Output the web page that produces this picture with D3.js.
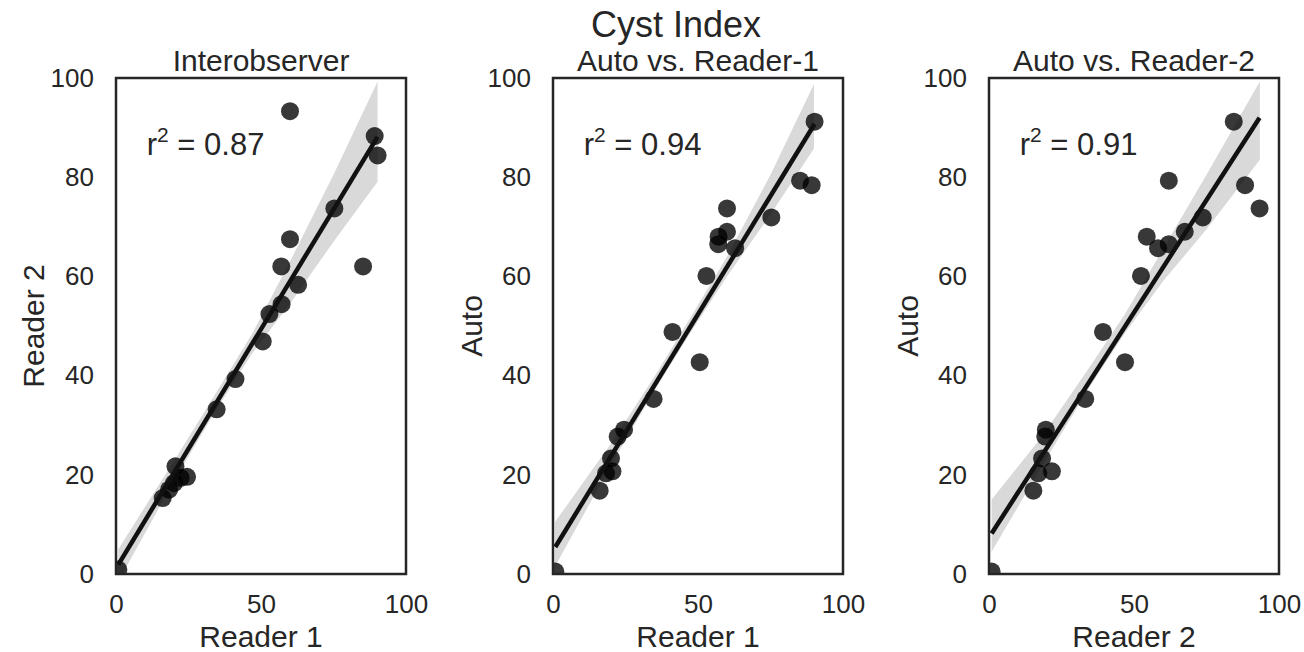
<!DOCTYPE html>
<html lang="en">
<meta charset="utf-8">
<title>Cyst Index</title>
<head>
  <style>
    body { margin: 0; background: #fff; }
    text { font-family: "Liberation Sans", Arial, sans-serif; fill: #262626; }
  </style>
</head>
<body>
  <script src="https://d3js.org/d3.v7.min.js"></script>
  <div id="chart"></div>
  <script>

    // cyst index per case
    var reader1 = [0.8, 16.1, 18.3, 20.5, 20.0, 22.3, 24.5, 34.7, 41.2, 50.6, 52.9, 62.8, 57.0, 57.1, 60.0, 75.3, 60.0, 89.2, 85.2, 90.2];
    var reader2 = [0.9, 15.3, 17.0, 21.7, 18.3, 19.4, 19.6, 33.2, 39.3, 46.9, 52.4, 58.3, 62.0, 54.4, 67.5, 73.7, 93.3, 88.3, 62.0, 84.4];
    var auto    = [0.5, 16.8, 20.3, 20.7, 23.3, 27.7, 29.1, 35.3, 48.8, 42.7, 60.1, 65.7, 66.5, 68.0, 69.0, 71.9, 73.7, 78.4, 79.3, 91.2];

    // confidence band edges (bootstrap band as drawn)
    var bandX1 = [0.8, 20, 35, 47, 60, 75, 90.2];
    var bandLo1 = [-1.5, 18.8, 33.5, 44.5, 54.5, 67.0, 79.1];
    var bandHi1 = [5.0, 22.8, 37.0, 48.5, 63.0, 80.5, 99.3];
    var bandX2 = [0.7, 20, 35, 47, 60, 75, 90];
    var bandLo2 = [1.5, 22.0, 37.0, 48.3, 60.0, 72.5, 85.8];
    var bandHi2 = [10.5, 26.3, 39.8, 51.3, 64.0, 80.5, 98.8];
    var bandX3 = [0.9, 18, 35, 47, 60, 75, 93.4];
    var bandLo3 = [4.5, 21.5, 38.0, 48.7, 59.0, 69.5, 83.5];
    var bandHi3 = [15.0, 27.5, 42.0, 52.5, 65.5, 80.5, 99.3];

    var titles = ["Interobserver", "Auto vs. Reader-1", "Auto vs. Reader-2"];
    var xLabels = ["Reader 1", "Reader 1", "Reader 2"];
    var yLabels = ["Reader 2", "Auto", "Auto"];
    var r2Labels = ["0.87", "0.94", "0.91"];
    var xTicks = [0, 50, 100];
    var yTicks = [0, 20, 40, 60, 80, 100];

    var panels = [
      { x: reader1, y: reader2, bx: bandX1, lo: bandLo1, hi: bandHi1, left: 116 },
      { x: reader1, y: auto,    bx: bandX2, lo: bandLo2, hi: bandHi2, left: 553 },
      { x: reader2, y: auto,    bx: bandX3, lo: bandLo3, hi: bandHi3, left: 989 }
    ];

    var W = 1304, H = 652;
    var pw = 290, plotTop = 78, ph = 496;

    var svg = d3.select("#chart").append("svg")
      .attr("width", W).attr("height", H);

    svg.append("text")
      .attr("x", 676).attr("y", 37)
      .attr("text-anchor", "middle")
      .style("font-size", "36px")
      .text("Cyst Index");

    // least squares fit
    function fit(xs, ys) {
      var mx = d3.mean(xs), my = d3.mean(ys);
      var sxy = d3.sum(xs, (d, i) => (d - mx) * (ys[i] - my));
      var sxx = d3.sum(xs, d => (d - mx) * (d - mx));
      var b = sxy / sxx;
      return { b: b, a: my - b * mx };
    }

    panels.forEach((p, k) => {
      var g = svg.append("g").attr("transform", "translate(" + p.left + "," + plotTop + ")");

      var x = d3.scaleLinear().domain([0, 100]).range([0, pw]);
      var y = d3.scaleLinear().domain([0, 100]).range([ph, 0]);

      g.append("clipPath").attr("id", "clip" + k)
        .append("rect").attr("width", pw).attr("height", ph);

      var plot = g.append("g").attr("clip-path", "url(#clip" + k + ")");

      // band
      plot.append("path")
        .datum(p.bx)
        .attr("fill", "#d9d9d9")
        .attr("d", d3.area()
          .x(d => x(d))
          .y0((d, i) => y(p.lo[i]))
          .y1((d, i) => y(p.hi[i]))
        );

      // points
      plot.selectAll("circle")
        .data(p.x)
        .join("circle")
        .attr("cx", d => x(d))
        .attr("cy", (d, i) => y(p.y[i]))
        .attr("r", 9)
        .attr("fill", "#000")
        .attr("fill-opacity", 0.78);

      // regression line
      var f = fit(p.x, p.y);
      var ext = d3.extent(p.x);
      plot.append("line")
        .attr("x1", x(ext[0])).attr("y1", y(f.a + f.b * ext[0]))
        .attr("x2", x(ext[1])).attr("y2", y(f.a + f.b * ext[1]))
        .attr("stroke", "#111")
        .attr("stroke-width", 4.5);

      // frame
      g.append("rect")
        .attr("width", pw).attr("height", ph)
        .attr("fill", "none")
        .attr("stroke", "#262626")
        .attr("stroke-width", 2.5);

      // axes (labels only, no tick marks)
      var xa = g.append("g")
        .attr("transform", "translate(0," + ph + ")")
        .call(d3.axisBottom(x).tickValues(xTicks).tickSize(0).tickPadding(21));
      var ya = g.append("g")
        .call(d3.axisLeft(y).tickValues(yTicks).tickSize(0).tickPadding(22));
      [xa, ya].forEach(a => {
        a.select(".domain").remove();
        a.selectAll("text")
          .style("font-size", "26px")
          .style("font-family", "'Liberation Sans', Arial, sans-serif")
          .attr("fill", "#262626");
      });

      g.append("text")
        .attr("x", pw / 2).attr("y", -7)
        .attr("text-anchor", "middle")
        .style("font-size", "30px")
        .text(titles[k]);

      g.append("text")
        .attr("x", pw / 2).attr("y", 646.5 - plotTop)
        .attr("text-anchor", "middle")
        .style("font-size", "30px")
        .text(xLabels[k]);

      g.append("text")
        .attr("transform", "translate(" + (k == 0 ? -72 : -71) + "," + (ph / 2) + ") rotate(-90)")
        .attr("text-anchor", "middle")
        .style("font-size", "30px")
        .text(yLabels[k]);

      // r squared note
      var t = g.append("text")
        .attr("x", x(10.6)).attr("y", y(84.5))
        .style("font-size", "31px");
      t.append("tspan").text("r");
      t.append("tspan").attr("dy", -13).style("font-size", "21px").text("2");
      t.append("tspan").attr("dy", 13).text(" = " + r2Labels[k]);
    });

  </script>
</body>
</html>
